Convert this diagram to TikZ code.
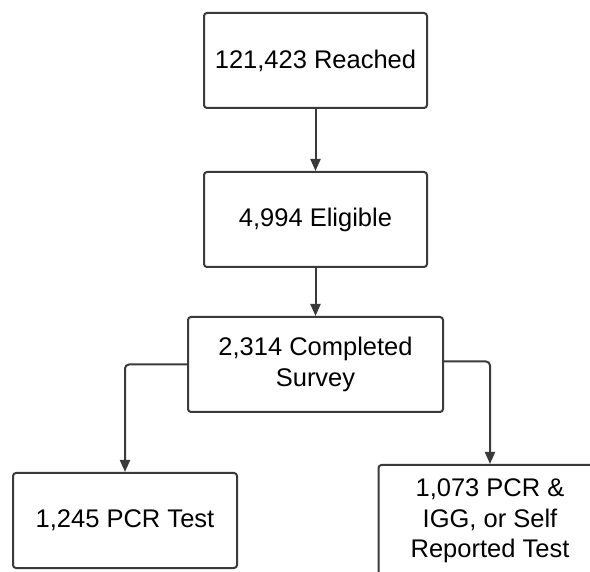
\documentclass[tikz,border=0pt]{standalone}
\usepackage{fontspec}
\setmainfont{Liberation Sans}
\usepackage{tikz}
\usetikzlibrary{arrows.meta, positioning}
\definecolor{edgegray}{HTML}{3A3A3A}

\begin{document}
\begin{tikzpicture}[
  x=1pt, y=-1pt,
  stage/.style={rectangle, rounded corners=3pt, draw=edgegray, line width=2pt, fill=white, minimum width=223pt, minimum height=95pt, inner sep=0pt, align=center, font=\fontsize{25.5}{30.5}\selectfont},
  flow/.style={-{Triangle[length=12pt, width=10pt]}, line width=2pt, edgegray},
]
\useasboundingbox (0,0) rectangle (590,572);

% Main column
\node[stage] (reach) at (315.5,60.5) {121,423 Reached};
\node[stage, below=62pt of reach] (elig) {4,994 Eligible};
\node[stage, minimum width=255pt, below=48pt of elig] (surv) {2,314 Completed\\Survey};

% Test groups
\node[stage, minimum width=224pt] (pcr) at (125,520.5) {1,245 PCR Test};
\node[stage, minimum height=112pt] (selfrep) at (490,521) {1,073 PCR \&\\IGG, or Self\\Reported Test};

% Arrows
\draw[flow] (reach) -- (elig);
\draw[flow] (elig) -- (surv);
\draw[flow, rounded corners=4pt] (surv.west) -| (pcr.north);
\draw[flow, rounded corners=4pt] ([yshift=3pt]surv.east) -| (selfrep.north);

\end{tikzpicture}
\end{document}
